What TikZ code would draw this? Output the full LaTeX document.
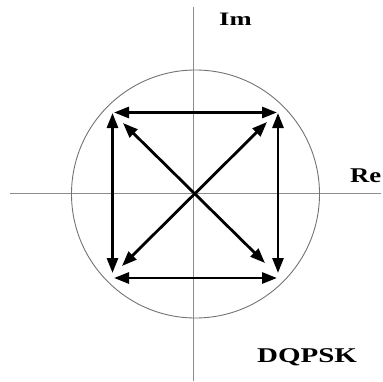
\documentclass[tikz,border=0pt]{standalone}
\usepackage{fontspec}
\setmainfont{Liberation Serif}
\usetikzlibrary{arrows.meta}
\begin{document}
\begin{tikzpicture}[x=1pt,y=-1pt,
  axis/.style={draw=black!45,line width=0.9pt},
  ring/.style={draw=black!55,line width=0.9pt},
  vec/.style={draw=black,line width=2.8pt,{Triangle[length=15pt,width=11pt]}-{Triangle[length=15pt,width=11pt]}},
  lab/.style={anchor=base west,inner sep=0pt,font=\bfseries}]
\useasboundingbox (0,0) rectangle (383,381);
% axes
\coordinate (xl) at (10,193);
\coordinate (xr) at (381,193);
\coordinate (yt) at (193.5,7);
\coordinate (yb) at (193.5,381);
\draw[axis] (xl) -- (xr);
\draw[axis] (yt) -- (yb);
% circle
\coordinate (c) at (195.5,194);
\draw[ring] (c) circle (124);
% square corner tips
\coordinate (ht1) at (114,112.5);
\coordinate (ht2) at (277,112.5);
\coordinate (hb1) at (114,278);
\coordinate (hb2) at (277,278);
\coordinate (vl1) at (112.5,113);
\coordinate (vl2) at (112.5,273);
\coordinate (vr1) at (278,113);
\coordinate (vr2) at (278,273);
% diagonal tips
\coordinate (d1) at (123,123);
\coordinate (d2) at (265,263);
\coordinate (d3) at (267,122);
\coordinate (d4) at (122,266);
\draw[vec] (ht1) -- (ht2);
\draw[vec] (hb1) -- (hb2);
\draw[vec] (vl1) -- (vl2);
\draw[vec] (vr1) -- (vr2);
\draw[vec] (d1) -- (d2);
\draw[vec] (d3) -- (d4);
% labels
\node[lab] (im) at (219,25.5) {\fontsize{19}{21}\selectfont\scalebox{1.4}[1]{Im}};
\node[lab] (re) at (350,182.5) {\fontsize{21}{23}\selectfont\scalebox{1.27}[1]{Re}};
\node[lab] (dq) at (257,362.5) {\fontsize{21}{23}\selectfont\scalebox{1.38}[1]{DQPSK}};
\end{tikzpicture}
\end{document}
